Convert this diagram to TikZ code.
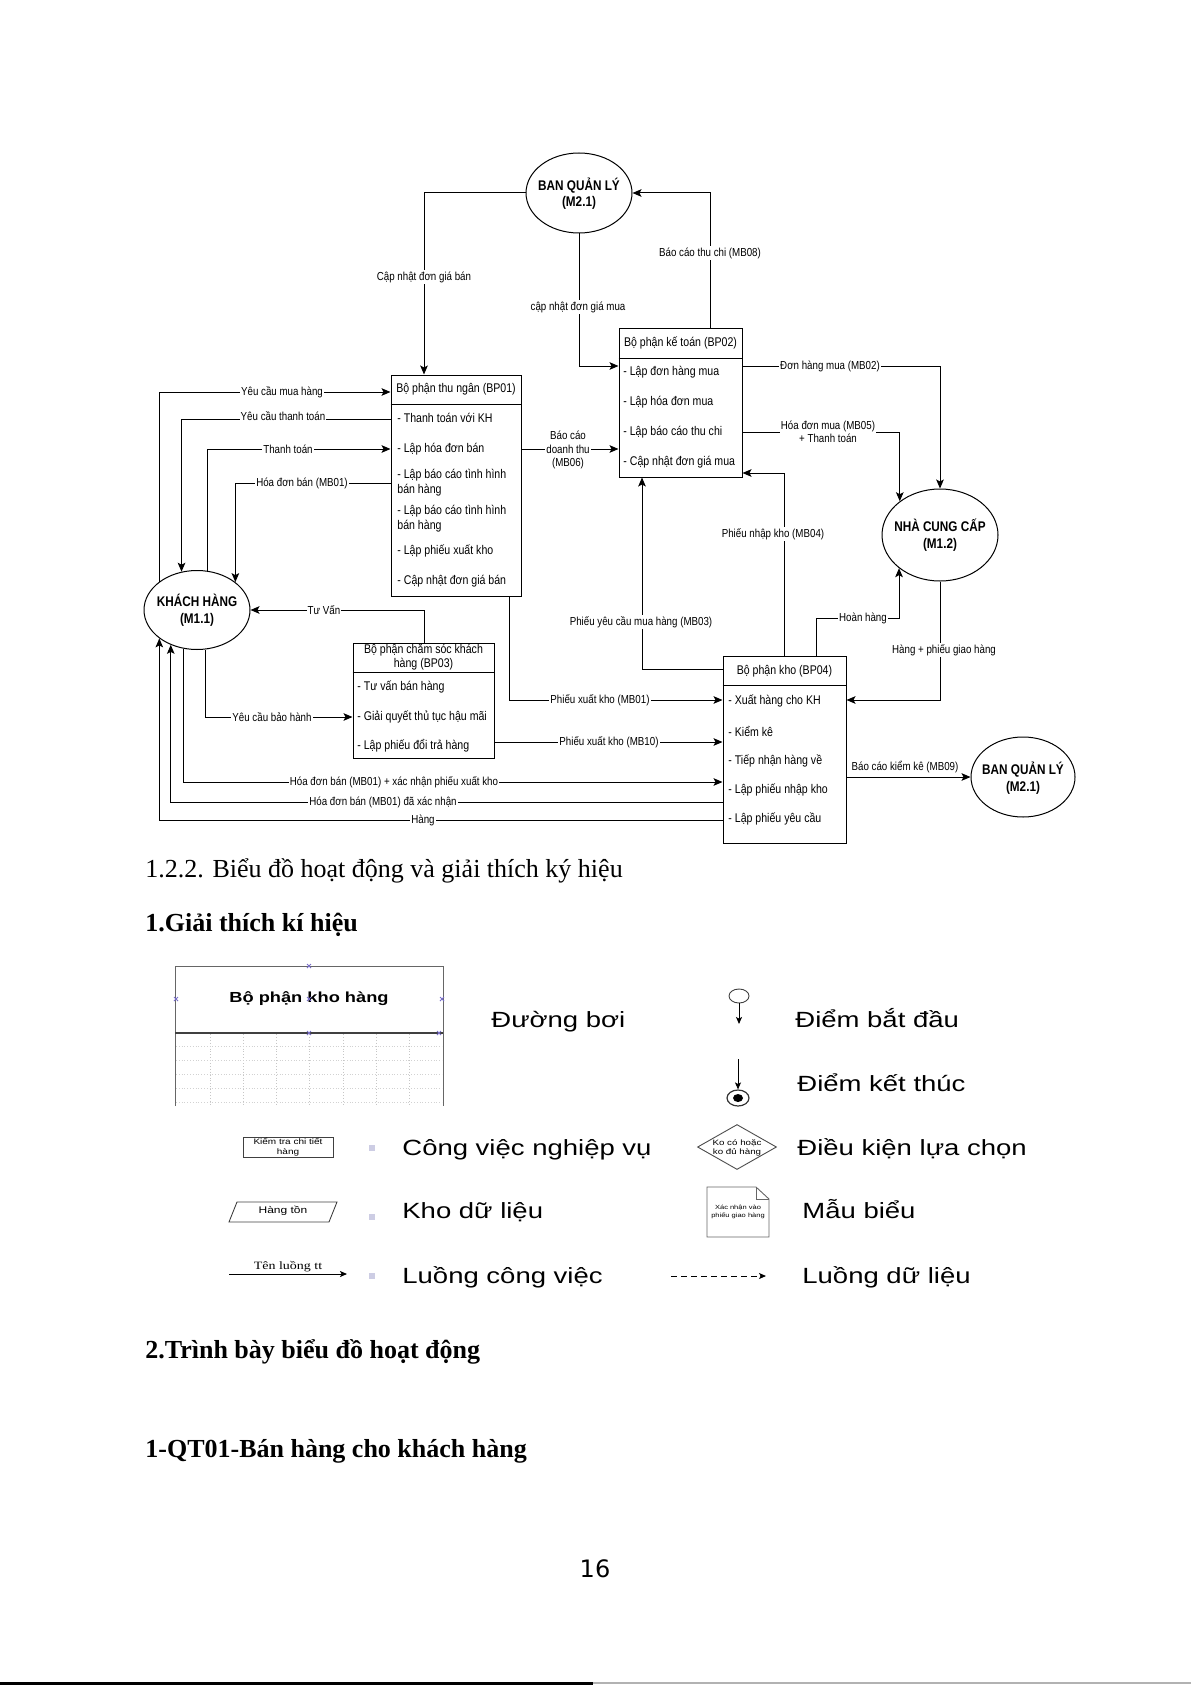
\documentclass[tikz,border=0pt]{standalone}
\usepackage{fontspec}
\setmainfont{Liberation Serif}
\newfontfamily\dfont[FakeStretch=0.84]{Liberation Sans}
\newfontfamily\lfont[FakeStretch=1.25]{Liberation Sans}
\newfontfamily\lserif[FakeStretch=1.25]{Liberation Serif}
\newfontfamily\pgfont{DejaVu Sans}
\usetikzlibrary{arrows.meta,shapes.geometric}
\definecolor{lav}{RGB}{205,205,228}
\definecolor{handle}{RGB}{120,110,200}
\begin{document}
\begin{tikzpicture}[x=0.5pt,y=-0.5pt,
  arr/.style={-{Stealth[length=4.5pt,width=3.8pt,inset=1pt]}, line width=0.5pt},
  sarr/.style={-{Stealth[length=3.5pt,width=3pt,inset=0.8pt]}, line width=0.45pt},
  ln/.style={line width=0.5pt},
  box/.style={draw, line width=0.5pt, rectangle, inner sep=0pt},
  ell/.style={draw, line width=0.5pt, ellipse, inner sep=0pt},
  etxt/.style={font=\dfont\bfseries\fontsize{7}{8.3}\selectfont, align=center, inner sep=0pt},
  item/.style={font=\dfont\fontsize{6.3}{7.5}\selectfont, anchor=west, inner sep=0pt, align=left},
  head/.style={font=\dfont\fontsize{6.3}{7}\selectfont, inner sep=0pt, align=center},
  lbl/.style={font=\dfont\fontsize{5.8}{6.6}\selectfont, fill=white, inner sep=0.6pt, align=center},
  htxt/.style={font=\fontsize{13}{15}\selectfont, anchor=base west, inner sep=0pt},
  hbold/.style={font=\bfseries\fontsize{13}{15}\selectfont, anchor=base west, inner sep=0pt},
  legtxt/.style={font=\lfont\fontsize{11}{13}\selectfont, anchor=base west, inner sep=0pt},
  tiny/.style={font=\lfont\fontsize{4}{4.6}\selectfont, align=center, inner sep=0pt},
  legline/.style={draw=black!75, line width=0.45pt}
]
\useasboundingbox (0,0) rectangle (1191,1685);

% ---------------- ellipses ----------------
\node[ell, minimum width=53pt, minimum height=40pt] (ql1) at (579,193) {};
\node[etxt] (ql1t) at (579,193.5) {BAN QUẢN LÝ\\(M2.1)};
\node[ell, minimum width=53pt, minimum height=39.5pt] (kh) at (197,610) {};
\node[etxt] (kht) at (197,610) {KHÁCH HÀNG\\(M1.1)};
\node[ell, minimum width=58pt, minimum height=46pt] (ncc) at (940,535) {};
\node[etxt] (ncct) at (940,535) {NHÀ CUNG CẤP\\(M1.2)};
\node[ell, minimum width=52pt, minimum height=40pt] (ql2) at (1023,777) {};
\node[etxt] (ql2t) at (1023,778) {BAN QUẢN LÝ\\(M2.1)};

% ---------------- BP01 ----------------
\node[box, minimum width=65pt, minimum height=110.5pt] (bp01) at (456,485.5) {};
\draw[ln] (bp01.west |- 0,404) -- (bp01.east |- 0,404);
\node[head] (bp01h) at (456,389) {Bộ phận thu ngân (BP01)};
\node[item] (bp01a) at (397,418) {- Thanh toán với KH};
\node[item] (bp01b) at (397,449) {- Lập hóa đơn bán};
\node[item] (bp01c) at (397,482.5) {- Lập báo cáo tình hình\\bán hàng};
\node[item] (bp01d) at (397,518.5) {- Lập báo cáo tình hình\\bán hàng};
\node[item] (bp01e) at (397,551) {- Lập phiếu xuất kho};
\node[item] (bp01f) at (397,581) {- Cập nhật đơn giá bán};

% ---------------- BP02 ----------------
\node[box, minimum width=61.5pt, minimum height=74.5pt] (bp02) at (680.5,402.5) {};
\draw[ln] (bp02.west |- 0,358) -- (bp02.east |- 0,358);
\node[head] (bp02h) at (680.5,343) {Bộ phận kế toán (BP02)};
\node[item] (bp02a) at (623,372) {- Lập đơn hàng mua};
\node[item] (bp02b) at (623,402) {- Lập hóa đơn mua};
\node[item] (bp02c) at (623,432) {- Lập báo cáo thu chi};
\node[item] (bp02d) at (623,462) {- Cập nhật đơn giá mua};

% ---------------- BP03 ----------------
\node[box, minimum width=70.5pt, minimum height=57.5pt] (bp03) at (423.5,700.5) {};
\draw[ln] (bp03.west |- 0,672) -- (bp03.east |- 0,672);
\node[head] (bp03h) at (423.5,657) {Bộ phận chăm sóc khách\\hàng (BP03)};
\node[item] (bp03a) at (357,687) {- Tư vấn bán hàng};
\node[item] (bp03b) at (357,717) {- Giải quyết thủ tục hậu mãi};
\node[item] (bp03c) at (357,746) {- Lập phiếu đổi trả hàng};

% ---------------- BP04 ----------------
\node[box, minimum width=61.5pt, minimum height=93.5pt] (bp04) at (784.5,749.5) {};
\draw[ln] (bp04.west |- 0,685) -- (bp04.east |- 0,685);
\node[head] (bp04h) at (784.5,671) {Bộ phận kho (BP04)};
\node[item] (bp04a) at (728,701) {- Xuất hàng cho KH};
\node[item] (bp04b) at (728,731) {- Kiểm kê};
\node[item] (bp04c) at (728,761) {- Tiếp nhận hàng về};
\node[item] (bp04d) at (728,790) {- Lập phiếu nhập kho};
\node[item] (bp04e) at (728,819) {- Lập phiếu yêu cầu};

% ---------------- connectors ----------------
\draw[arr] (ql1.west) -| (bp01.north -| 424,0);
\draw[arr] (ql1.south) |- (bp02.west |- 0,366);
\draw[arr] (bp02.north -| 710,0) |- (ql1.east);

\draw[arr] (kh.143.6) |- (bp01.west |- 0,392);
\draw[arr] (bp01.west |- 0,419) -| (kh.112.8);
\draw[arr] (kh.75.7) |- (bp01.west |- 0,449);
\draw[arr] (bp01.west |- 0,483) -| (kh.36.3);

\draw[arr] (bp01.east |- 0,449) -- (bp02.west |- 0,449);
\draw[arr] (bp02.east |- 0,366) -| (ncc.north);
\draw[arr] (bp02.east |- 0,432) -| (ncc.140.2);

\draw[arr] (bp04.north -| 784,0) |- (bp02.east |- 0,473);
\draw[arr] (bp04.west |- 0,669) -| (bp02.south -| 642,0);
\draw[arr] (bp04.north -| 816,0) |- (ncc.219.8 |- 0,618) -- (ncc.219.8);
\draw[arr] (ncc.south) |- (bp04.east |- 0,700);
\draw[arr] (bp04.east |- ql2.west) -- (ql2.west);

\draw[arr] (bp03.north -| 424,0) |- (kh.east);
\draw[arr] (kh.282.9) |- (bp03.west |- 0,717);
\draw[arr] (bp01.south -| 509,0) |- (bp04.west |- 0,700);
\draw[arr] (bp03.east |- 0,742) -- (bp04.west |- 0,742);
\draw[arr] (kh.251.5) |- (bp04.west |- 0,782);
\draw[arr] (bp04.west |- 0,802) -| (kh.233.3);
\draw[arr] (bp04.west |- 0,820) -| (kh.217.7);

% ---------------- connector labels ----------------
\node[lbl] (l1) at (424,277) {Cập nhật đơn giá bán};
\node[lbl] (l2) at (578,307) {cập nhật đơn giá mua};
\node[lbl] (l3) at (710,253) {Báo cáo thu chi (MB08)};
\node[lbl] (l4) at (282,392) {Yêu cầu mua hàng};
\node[lbl] (l5) at (283,416) {Yêu cầu thanh toán};
\node[lbl] (l6) at (288,449) {Thanh toán};
\node[lbl] (l7) at (302,483) {Hóa đơn bán (MB01)};
\node[lbl] (l8) at (568,450) {Báo cáo\\doanh thu\\(MB06)};
\node[lbl] (l9) at (830,366) {Đơn hàng mua (MB02)};
\node[lbl] (l10) at (828,432) {Hóa đơn mua (MB05)\\+ Thanh toán};
\node[lbl] (l11) at (773,534) {Phiếu nhập kho (MB04)};
\node[lbl] (l12) at (641,622) {Phiếu yêu cầu mua hàng (MB03)};
\node[lbl] (l13) at (863,618) {Hoàn hàng};
\node[lbl] (l14) at (944,650) {Hàng + phiếu giao hàng};
\node[lbl] (l15) at (905,767) {Báo cáo kiểm kê (MB09)};
\node[lbl] (l16) at (324,610) {Tư Vấn};
\node[lbl] (l17) at (272,717) {Yêu cầu bảo hành};
\node[lbl] (l18) at (600,700) {Phiếu xuất kho (MB01)};
\node[lbl] (l19) at (609,742) {Phiếu xuất kho (MB10)};
\node[lbl] (l20) at (394,782) {Hóa đơn bán (MB01) + xác nhận phiếu xuất kho};
\node[lbl] (l21) at (383,802) {Hóa đơn bán (MB01) đã xác nhận};
\node[lbl] (l22) at (423,820) {Hàng};

% ---------------- headings ----------------
\node[htxt] (h1) at (145,877) {1.2.2. Biểu đồ hoạt động và giải thích ký hiệu};
\node[hbold] (h2) at (145,931) {1.Giải thích kí hiệu};
\node[hbold] (h3) at (145,1358) {2.Trình bày biểu đồ hoạt động};
\node[hbold] (h4) at (145,1457) {1-QT01-Bán hàng cho khách hàng};
\node[font=\pgfont\fontsize{12}{14}\selectfont, anchor=base, inner sep=0pt] (pg) at (595,1577) {16};

% ---------------- legend: swimlane ----------------
\foreach \gx in {210,243,276,309,343,376,409}
  \draw[gray!45, densely dotted, line width=0.45pt] (\gx,1034) -- (\gx,1106);
\foreach \gy in {1046,1060,1074,1088,1102}
  \draw[gray!35, densely dotted, line width=0.4pt] (176,\gy) -- (442,\gy);
\draw[gray!80!black, line width=0.5pt] (175,1106) -- (175,966) -- (443,966) -- (443,1106);
\draw[black!75, line width=0.8pt] (175,1033) -- (443,1033);
\node[font=\lfont\bfseries\fontsize{7.3}{8}\selectfont, inner sep=0pt] (swt) at (309,999) {Bộ phận kho hàng};
\foreach \cx/\cy in {309/966, 176/999, 442/999, 309/999, 309/1033, 439/1033}
  \draw[handle, line width=0.4pt] (\cx-2,\cy-2) -- (\cx+2,\cy+2) (\cx-2,\cy+2) -- (\cx+2,\cy-2);
\node[legtxt] (lg1) at (491,1027) {Đường bơi};

% start / end
\node[draw=black!75, ellipse, line width=0.45pt, minimum width=10pt, minimum height=7pt, inner sep=0pt] (st) at (739,996) {};
\coordinate (stend) at (739,1024);
\draw[sarr] (st.south) -- (stend);
\node[legtxt] (lg2) at (795,1027) {Điểm bắt đầu};
\node[draw=black!80, ellipse, line width=0.6pt, minimum width=11pt, minimum height=8pt, inner sep=0pt] (en) at (738,1098) {};
\node[fill=black, ellipse, minimum width=5pt, minimum height=4pt, inner sep=0pt] (endot) at (738,1098) {};
\coordinate (enbeg) at (738,1059);
\draw[sarr] (enbeg) -- (en.north);
\node[legtxt] (lg3) at (797,1091) {Điểm kết thúc};

% task box
\node[draw=black!75, line width=0.45pt, minimum width=45pt, minimum height=10pt, inner sep=0pt] (task) at (288,1147) {};
\node[tiny] (taskt) at (288,1147) {Kiểm tra chi tiết\\hàng};
\node[legtxt] (lg4) at (402,1155) {Công việc nghiệp vụ};

% diamond
\node[draw=black!70, diamond, line width=0.45pt, minimum width=39.5pt, minimum height=22.5pt, inner sep=0pt] (dia) at (737,1147) {};
\node[font=\lfont\fontsize{3.9}{4.5}\selectfont, align=center, inner sep=0pt] (diat) at (737,1147.5) {Ko có hoặc\\ko đủ hàng};
\node[legtxt] (lg5) at (797,1155) {Điều kiện lựa chọn};

% data store
\draw[legline] (237,1202) -- (337,1202) -- (329,1222) -- (229,1222) -- cycle;
\node[font=\lfont\fontsize{4.8}{5.5}\selectfont, inner sep=0pt] (storet) at (283,1211) {Hàng tồn};
\node[legtxt] (lg6) at (402,1218) {Kho dữ liệu};

% document
\draw[draw=black!60, line width=0.45pt] (707,1187) -- (756,1187) -- (769,1199) -- (769,1237) -- (707,1237) -- cycle;
\draw[draw=black!60, line width=0.4pt] (756,1187) -- (756,1199) -- (769,1199);
\node[font=\lfont\fontsize{3}{3.8}\selectfont, align=center, inner sep=0pt] (doct) at (738,1212) {Xác nhận vào\\phiếu giao hàng};
\node[legtxt] (lg7) at (802,1218) {Mẫu biểu};

% flows
\coordinate (wf1) at (229,1274);
\coordinate (wf2) at (347,1274);
\draw[sarr] (wf1) -- (wf2);
\node[font=\lserif\fontsize{5.6}{6.5}\selectfont, inner sep=0pt] (wft) at (288,1267) {Tên luồng tt};
\node[legtxt] (lg8) at (402,1283) {Luồng công việc};
\coordinate (df1) at (671,1276);
\coordinate (df2) at (766,1276);
\draw[sarr, densely dashed] (df1) -- (df2);
\node[legtxt] (lg9) at (802,1283) {Luồng dữ liệu};

% bullets
\foreach \by in {1148,1217,1276}
  \fill[lav] (369,\by-3) rectangle (375,\by+3);

% bottom page edge
\draw[black, line width=1.5pt] (0,1683) -- (593,1683);
\draw[gray!60, line width=0.8pt] (593,1683) -- (1191,1683);
\end{tikzpicture}
\end{document}
